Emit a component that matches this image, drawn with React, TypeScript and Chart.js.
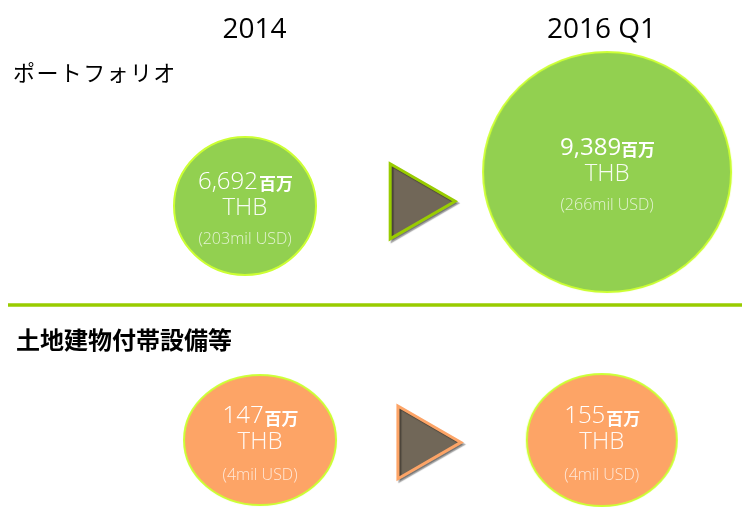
import React, { useEffect, useRef } from 'react';
import { Chart, registerables } from 'chart.js';
Chart.register(...registerables);

// ---------- data ----------
const periods = ['2014', '2016 Q1'];
const rowLabels = ['ポートフォリオ', '土地建物付帯設備等'];
const portfolioTHB = [6692, 9389];
const portfolioUSD = [203, 266];
const facilitiesTHB = [147, 155];
const facilitiesUSD = [4, 4];
const unitLabel = '百万';
const currencyLabel = 'THB';

// ---------- layout / style (not data) ----------
const periodColumns = [0, 2]; // arrow sits in column 1
const rowFill = ['#92D050', '#FDA466'];
const bubbleBorder = '#CCFF33';
const arrowFill = '#716758';
const arrowBorder = ['#99CC00', '#FDA466'];
const bubbleSize = [
  [{ rx: 71, ry: 69 }, { rx: 124, ry: 120 }],
  [{ rx: 76, ry: 65 }, { rx: 75, ry: 66 }],
];
const bubbleNudge = [
  [{ dx: -0.02, dy: 0 }, { dx: 0.02, dy: -0.145 }],
  [{ dx: 0.065, dy: 0 }, { dx: -0.01, dy: 0 }],
];
const arrowNudge = [{ dx: -0.08, dy: -0.02 }, { dx: -0.04, dy: 0.01 }];
const arrowRadius = [43.3, 42];
const FONT = "'Open Sans', 'Noto Sans CJK JP', sans-serif";
const CJK = "'Noto Sans CJK JP', sans-serif";

function ellipseImage(rx: number, ry: number, fill: string): HTMLCanvasElement {
  const bw = 2;
  const c = document.createElement('canvas');
  c.width = Math.round(rx * 2 + bw * 2);
  c.height = Math.round(ry * 2 + bw * 2);
  const g = c.getContext('2d')!;
  g.beginPath();
  g.ellipse(c.width / 2, c.height / 2, rx, ry, 0, 0, Math.PI * 2);
  g.fillStyle = fill;
  g.fill();
  g.lineWidth = bw;
  g.strokeStyle = bubbleBorder;
  g.stroke();
  return c;
}

const fmt = (v: number) => v.toLocaleString('en-US');

export default function App() {
  const ref = useRef<HTMLCanvasElement>(null);
  useEffect(() => {
    const rowsTHB = [portfolioTHB, facilitiesTHB];
    const rowsUSD = [portfolioUSD, facilitiesUSD];

    const bubbleDatasets = rowsTHB.map((vals, r) => ({
      label: rowLabels[r],
      data: vals.map((_, i) => ({
        x: periodColumns[i] + bubbleNudge[r][i].dx,
        y: r + bubbleNudge[r][i].dy,
      })),
      pointStyle: vals.map((_, i) => ellipseImage(bubbleSize[r][i].rx, bubbleSize[r][i].ry, rowFill[r])),
      pointRadius: 1,
      clip: false as any,
    }));

    const arrowDataset = {
      label: 'arrow',
      data: rowLabels.map((_, r) => ({ x: 1 + arrowNudge[r].dx, y: r + arrowNudge[r].dy })),
      pointStyle: 'triangle' as const,
      rotation: 90,
      pointRadius: arrowRadius,
      backgroundColor: arrowFill,
      borderColor: arrowBorder,
      borderWidth: 3,
      clip: false as any,
    };

    const decor = {
      id: 'decor',
      beforeDatasetsDraw(chart: any) {
        const ctx = chart.ctx;
        ctx.save();
        ctx.strokeStyle = '#99CC00';
        ctx.lineWidth = 3.5;
        ctx.beginPath();
        ctx.moveTo(8, 305);
        ctx.lineTo(742, 305);
        ctx.stroke();
        ctx.restore();
      },
      beforeDatasetDraw(chart: any, args: any) {
        if (args.index === 2) {
          const ctx = chart.ctx;
          ctx.save();
          ctx.shadowColor = 'rgba(0,0,0,0.35)';
          ctx.shadowOffsetX = 2;
          ctx.shadowOffsetY = 2;
          ctx.shadowBlur = 1;
        }
      },
      afterDatasetDraw(chart: any, args: any) {
        if (args.index === 2) chart.ctx.restore();
      },
      afterDatasetsDraw(chart: any) {
        const ctx = chart.ctx;
        const xs = chart.scales.x;
        ctx.save();
        ctx.textBaseline = 'middle';
        // period titles
        ctx.fillStyle = '#000';
        ctx.textAlign = 'center';
        ctx.font = `28px ${FONT}`;
        periods.forEach((p, i) => {
          ctx.fillText(p, xs.getPixelForValue(periodColumns[i]) + (i === 0 ? 6 : -2), 30);
        });
        // row labels
        ctx.textAlign = 'left';
        ctx.font = `22px ${CJK}`;
        ctx.fillText(rowLabels[0].split('').join(String.fromCharCode(8202)), 13, 73);
        ctx.font = `bold 24px ${CJK}`;
        ctx.fillText(rowLabels[1], 16, 340);
        // bubble texts
        rowsTHB.forEach((vals, r) => {
          const meta = chart.getDatasetMeta(r);
          vals.forEach((v, i) => {
            const el = meta.data[i];
            const cx = el.x;
            const cy = el.y;
            const num = fmt(v);
            ctx.font = `300 24px ${FONT}`;
            const wn = ctx.measureText(num).width;
            ctx.font = `bold 17px ${CJK}`;
            const wu = ctx.measureText(unitLabel).width;
            const start = cx - (wn + wu) / 2;
            ctx.fillStyle = '#FFFFFF';
            ctx.textAlign = 'left';
            ctx.font = `${r === 0 && i === 1 ? 400 : 300} 24px ${FONT}`;
            ctx.fillText(num, start, cy - 24);
            ctx.font = `bold 17px ${CJK}`;
            ctx.fillText(unitLabel, start + wn + 1, cy - 22);
            ctx.textAlign = 'center';
            ctx.fillStyle = 'rgba(255,255,255,0.92)';
            ctx.font = `300 24px ${FONT}`;
            ctx.fillText(currencyLabel, cx, cy + 2);
            ctx.fillStyle = 'rgba(255,255,255,0.75)';
            ctx.font = `300 16px ${FONT}`;
            ctx.fillText(`(${rowsUSD[r][i]}mil USD)`, cx, cy + (r === 0 ? 33 : 35));
          });
        });
        ctx.restore();
      },
    };

    const chart = new Chart(ref.current!, {
      type: 'scatter',
      data: { datasets: [...bubbleDatasets, arrowDataset] as any },
      options: {
        animation: false,
        responsive: false,
        devicePixelRatio: 1,
        events: [],
        layout: { padding: 0, autoPadding: false },
        plugins: { legend: { display: false }, tooltip: { enabled: false } },
        scales: {
          x: { type: 'linear', min: -1.4, max: 2.78, display: false },
          y: { type: 'linear', min: -0.88, max: 1.286, reverse: true, display: false },
        },
      },
      plugins: [decor],
    });
    return () => chart.destroy();
  }, []);

  return (
    <div style={{ position: 'absolute', left: 0, top: 0, width: 742, height: 507, background: '#fff' }}>
      <canvas ref={ref} width={742} height={507} />
    </div>
  );
}
